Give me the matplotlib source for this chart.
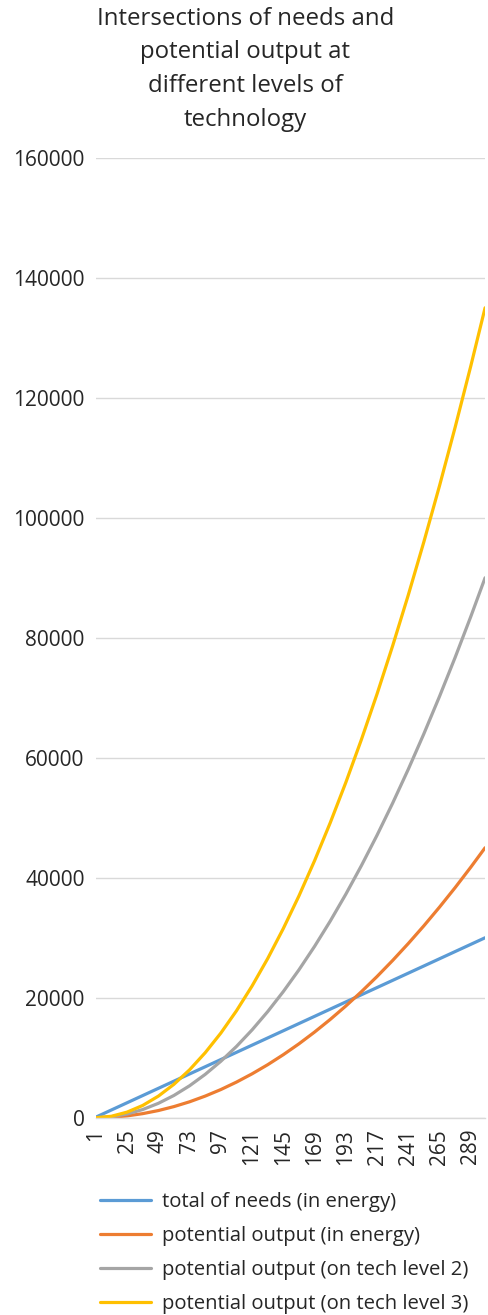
import matplotlib.pyplot as plt

plt.rcParams['font.family'] = ['Open Sans', 'DejaVu Sans']

# values
x = [1, 13, 25, 37, 49, 61, 73, 85, 97, 109, 121, 133, 145, 157, 169, 181,
     193, 205, 217, 229, 241, 253, 265, 277, 289, 300]
needs = [100, 1300, 2500, 3700, 4900, 6100, 7300, 8500, 9700, 10900, 12100,
         13300, 14500, 15700, 16900, 18100, 19300, 20500, 21700, 22900, 24100,
         25300, 26500, 27700, 28900, 30000]
output_energy = [1, 85, 310, 685, 1200, 1860, 2660, 3610, 4700, 5940, 7320,
                 8840, 10510, 12320, 14280, 16380, 18620, 21010, 23540, 26220,
                 29040, 32000, 35110, 38360, 41760, 45000]
output_tech2 = [1, 170, 625, 1370, 2400, 3720, 5330, 7230, 9410, 11880, 14640,
                17690, 21030, 24650, 28560, 32760, 37250, 42030, 47090, 52440,
                58080, 64010, 70230, 76730, 83520, 90000]
output_tech3 = [2, 250, 940, 2050, 3600, 5580, 7990, 10840, 14110, 17820,
                21960, 26530, 31540, 36970, 42840, 49140, 55870, 63040, 70630,
                78660, 87120, 96010, 105340, 115090, 125280, 135000]

xticks = list(range(1, 290, 24))
yticks = list(range(0, 160001, 20000))

series = [
    ("total of needs (in energy)", needs, "#5B9BD5"),
    ("potential output (in energy)", output_energy, "#ED7D31"),
    ("potential output (on tech level 2)", output_tech2, "#A5A5A5"),
    ("potential output (on tech level 3)", output_tech3, "#FFC000"),
]

txt = '#262626'

fig = plt.figure(figsize=(4.89, 13.15), dpi=100)
ax = fig.add_axes([0.196, 0.150, 0.796, 0.730])

for label, vals, col in series:
    ax.plot(x, vals, color=col, linewidth=2.3, label=label,
            solid_capstyle='round')

ax.set_xlim(1, 300)
ax.set_ylim(0, 160000)
ax.set_yticks(yticks)
ax.set_yticklabels([str(v) for v in yticks], fontsize=15, color=txt)
ax.set_xticks(xticks)
ax.set_xticklabels([str(v) for v in xticks], rotation=90, fontsize=15,
                   color=txt)
ax.tick_params(axis='both', length=0, pad=8)
ax.grid(axis='y', color='#D9D9D9', linewidth=1)
ax.set_axisbelow(True)
for s in ['top', 'right', 'left']:
    ax.spines[s].set_visible(False)
ax.spines['bottom'].set_color('#D9D9D9')
ax.spines['bottom'].set_linewidth(1)

fig.text(0.502, 0.995, "Intersections of needs and\npotential output at\ndifferent levels of\ntechnology",
         ha='center', va='top', fontsize=17.3, color=txt, linespacing=1.55)

fig.legend(loc='upper left', bbox_to_anchor=(0.188, 0.0995), frameon=False,
           fontsize=14.6, handlelength=2.5, handletextpad=0.55,
           labelspacing=0.69, borderaxespad=0, labelcolor=txt)

fig.savefig("out.png", dpi=100)
